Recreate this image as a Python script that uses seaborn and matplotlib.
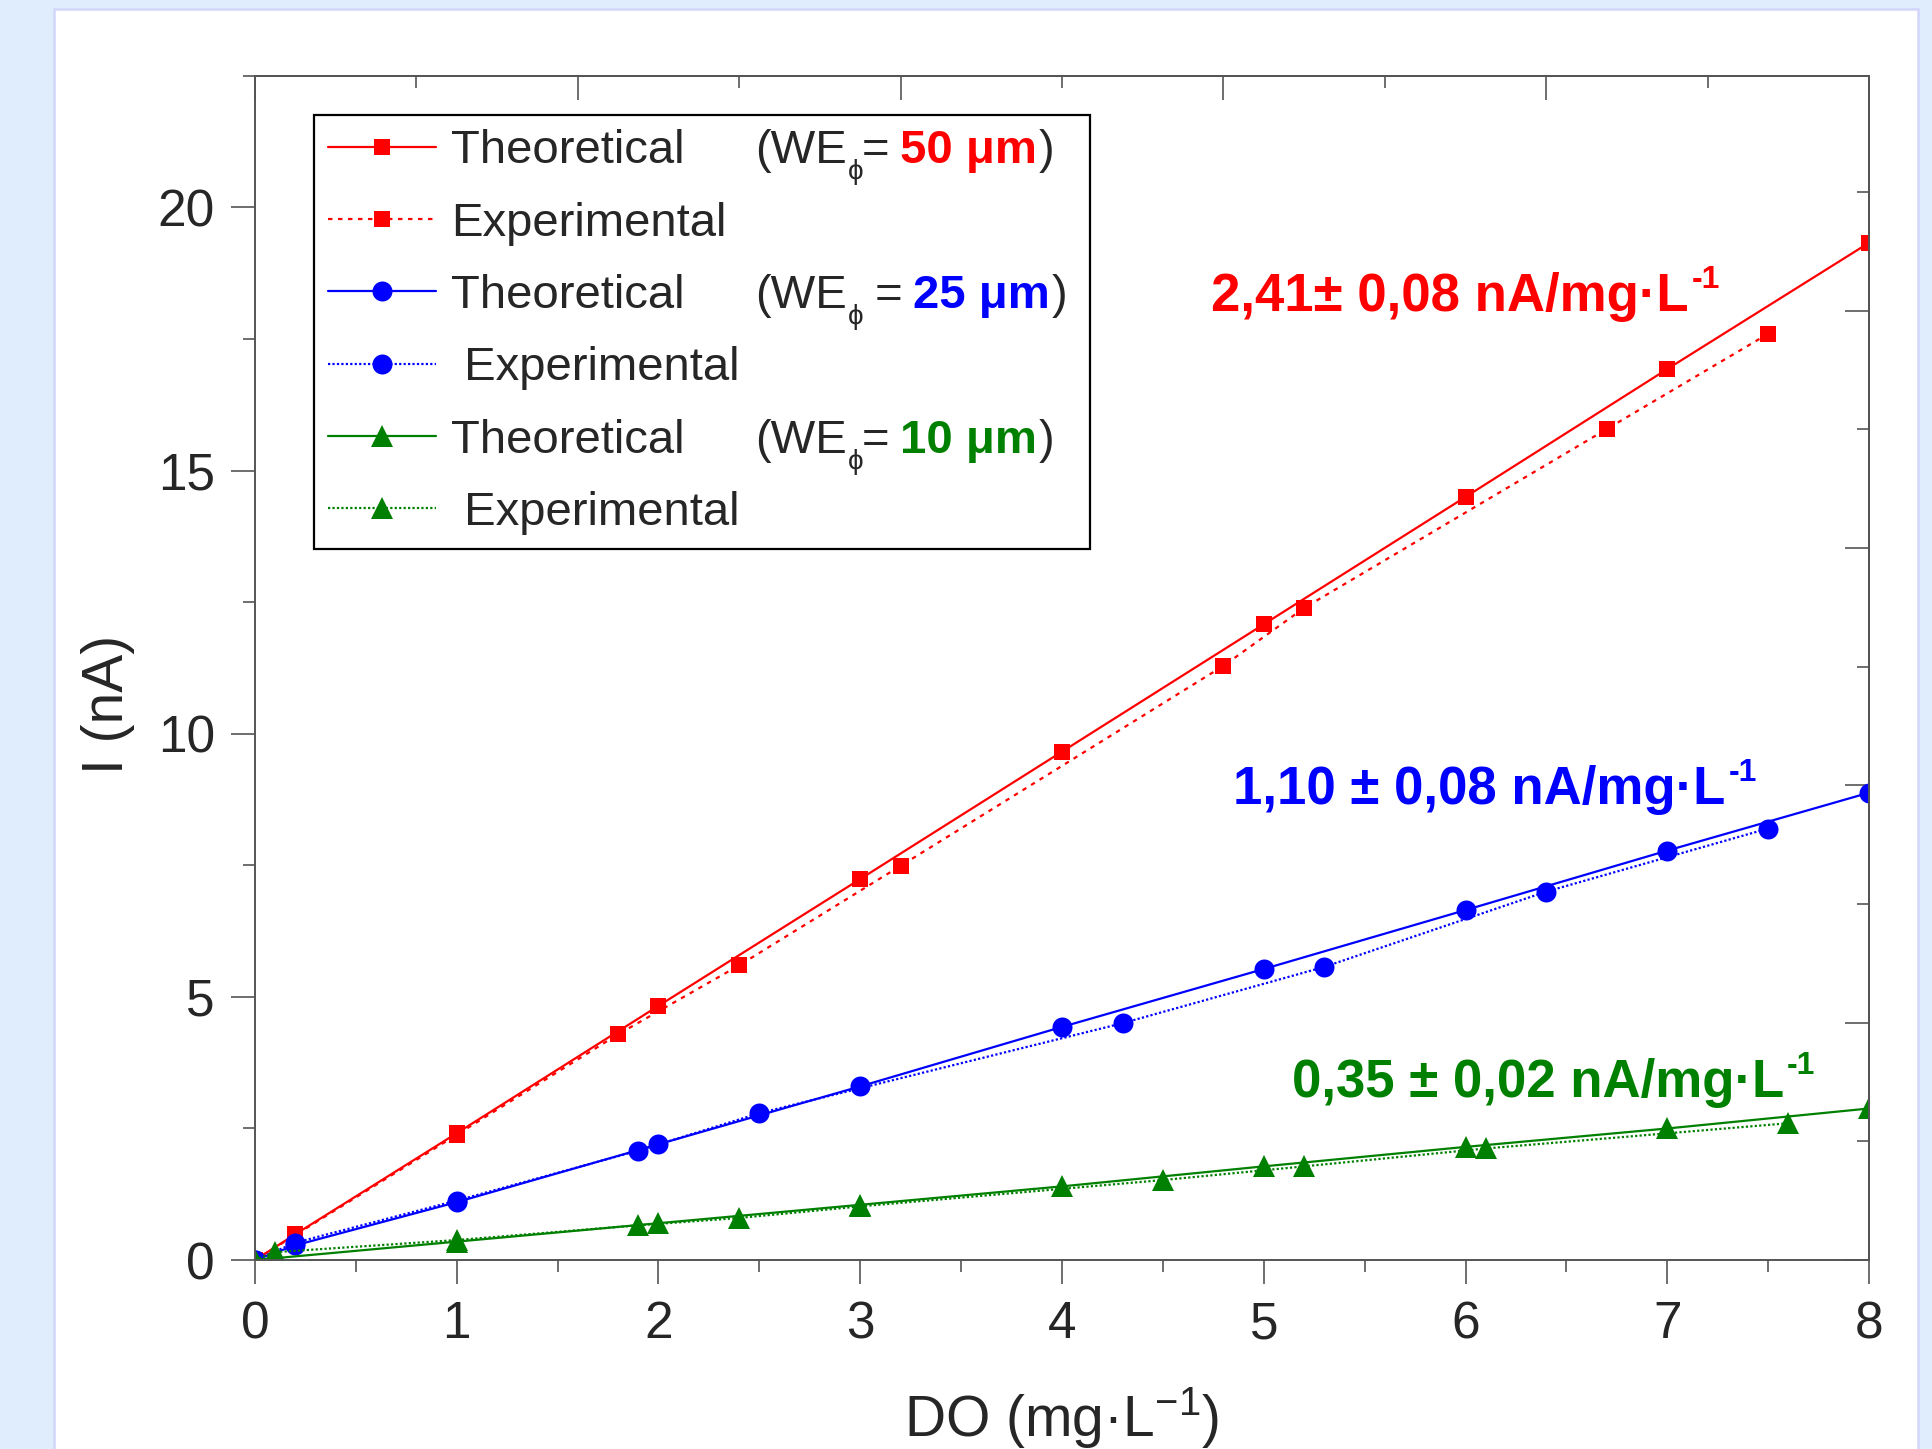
import numpy as np
import pandas as pd
import matplotlib
matplotlib.use("Agg")
import matplotlib.pyplot as plt
from matplotlib.patches import Rectangle
from matplotlib.ticker import MultipleLocator, NullFormatter
import seaborn as sns

# --- data ------------------------------------------------------------------
x_red_theo = [0, 0.2, 1, 2, 3, 4, 5, 6, 7, 8]
y_red_theo = [0, 0.49, 2.41, 4.83, 7.24, 9.66, 12.08, 14.5, 16.93, 19.33]
x_red_exp = [0, 1, 1.8, 2.4, 3.2, 4.8, 5.2, 6.7, 7.5]
y_red_exp = [0, 2.38, 4.29, 5.6, 7.49, 11.29, 12.39, 15.79, 17.6]

x_blue_theo = [0, 0.2, 1, 2, 3, 4, 5, 6, 7, 8]
y_blue_theo = [0, 0.28, 1.1, 2.2, 3.3, 4.43, 5.53, 6.65, 7.78, 8.88]
x_blue_exp = [0, 0.2, 1, 1.9, 2.5, 4.3, 5.3, 6.4, 7.5]
y_blue_exp = [0, 0.33, 1.13, 2.08, 2.79, 4.5, 5.57, 7.0, 8.2]

x_green_theo = [0, 1, 2, 3, 4, 5, 6, 7, 8]
y_green_theo = [0, 0.35, 0.7, 1.05, 1.4, 1.78, 2.15, 2.5, 2.88]
x_green_exp = [0, 0.1, 1, 1.9, 2.4, 3, 4.5, 5.2, 6.1, 7.6]
y_green_exp = [0, 0.15, 0.38, 0.66, 0.8, 1.02, 1.52, 1.78, 2.12, 2.6]

colors = ["#ff0000", "#0000ff", "#008000"]
markers = ["s", "o", "^"]
marker_sizes = [6, 7.2, 8]
diameters = ["50 μm", "25 μm", "10 μm"]
eq_signs = ["=", " =", "="]
slopes = ["2,41± 0,08 nA/mg·L", "1,10 ± 0,08 nA/mg·L", "0,35 ± 0,02 nA/mg·L"]
slope_pos = [(4.74, 18.04), (4.85, 8.67), (5.14, 3.10)]  # baseline-left, data units

series = [
    (x_red_theo, y_red_theo, x_red_exp, y_red_exp),
    (x_blue_theo, y_blue_theo, x_blue_exp, y_blue_exp),
    (x_green_theo, y_green_theo, x_green_exp, y_green_exp),
]
exp_dash = [(0, (2, 2.5)), (0, (1, 1)), (0, (1, 1))]

# --- style -----------------------------------------------------------------
sns.set_theme(style="ticks")
FONT = "Liberation Sans"
fam = [FONT, "DejaVu Sans"]
plt.rcParams["font.family"] = fam
plt.rcParams["mathtext.fontset"] = "custom"
plt.rcParams["mathtext.rm"] = FONT
plt.rcParams["mathtext.it"] = FONT + ":italic"
plt.rcParams["mathtext.bf"] = FONT + ":bold"

SPINE = "#555555"
LEG_FS = 17

fig = plt.figure(figsize=(9.665, 7.245), dpi=200)
fig.patch.set_facecolor("#dfedfd")
fig.add_artist(Rectangle((54 / 1933, -0.02), (1918 - 54) / 1933, 1.02 - 9 / 1449,
                         transform=fig.transFigure, facecolor="white",
                         edgecolor="#d3d6fa", lw=0.9, zorder=0))

ax = fig.add_axes([0.1319, 0.1304, 0.8350, 0.8172])
ax.set_facecolor("white")

handles = []
for (xt, yt, xe, ye), col, mk, ms, dash in zip(series, colors, markers, marker_sizes, exp_dash):
    sns.lineplot(x=xt, y=yt, ax=ax, color=col, marker=mk, markersize=ms,
                 markeredgewidth=0, markeredgecolor=col, linewidth=0.8)
    handles.append(ax.lines[-1])
    sns.lineplot(x=xe, y=ye, ax=ax, color=col, marker=mk, markersize=ms,
                 markeredgewidth=0, markeredgecolor=col, linewidth=0.8,
                 linestyle=dash)
    handles.append(ax.lines[-1])

ax.set_xlim(0, 8)
ax.set_ylim(0, 22.5)
ax.xaxis.set_major_locator(MultipleLocator(1))
ax.xaxis.set_minor_locator(MultipleLocator(0.5))
ax.yaxis.set_major_locator(MultipleLocator(5))
ax.yaxis.set_minor_locator(MultipleLocator(2.5))
ax.tick_params(which="both", direction="out", color=SPINE, width=0.6,
               labelsize=18.5, pad=5.8, top=False, right=False)
ax.tick_params(which="major", length=8.6)
ax.tick_params(which="minor", length=4.3)
for sp in ax.spines.values():
    sp.set_color(SPINE)
    sp.set_linewidth(0.7)
    sp.set_visible(True)

# secondary scales on top / right with inward ticks, no labels
top = ax.secondary_xaxis("top")
top.xaxis.set_major_locator(MultipleLocator(1.6))
top.xaxis.set_minor_locator(MultipleLocator(0.8))
top.xaxis.set_major_formatter(NullFormatter())
top.tick_params(which="both", direction="in", color=SPINE, width=0.6)
top.tick_params(which="major", length=8.6)
top.tick_params(which="minor", length=4.3)
top.spines["top"].set_color(SPINE)
top.spines["top"].set_linewidth(0.7)

right = ax.secondary_yaxis("right")
right.yaxis.set_major_locator(MultipleLocator(4.51))
right.yaxis.set_minor_locator(MultipleLocator(2.255))
right.yaxis.set_major_formatter(NullFormatter())
right.tick_params(which="both", direction="in", color=SPINE, width=0.6)
right.tick_params(which="major", length=8.6)
right.tick_params(which="minor", length=4.3)
right.spines["right"].set_color("#333333")
right.spines["right"].set_linewidth(0.7)

ax.set_xlabel("DO (mg·L$^{-1}$)", fontsize=20.5)
ax.set_ylabel("I (nA)", fontsize=20.5)
ax.xaxis.label.set_va("baseline")
ax.xaxis.set_label_coords(0.5, -0.1486)
ax.yaxis.set_label_coords(-0.0743, 0.469)

# slope annotations with a hyphen superscript
for (px, py), txt, col in zip(slope_pos, slopes, colors):
    main = ax.text(px, py, txt, color=col, fontsize=19, fontweight="bold",
                   va="baseline", ha="left")
    ax.annotate("-1", xy=(1, 1), xycoords=main, xytext=(1, 2.5),
                textcoords="offset points", va="top", ha="left",
                fontsize=11.5, fontweight="bold", color=col)

# legend
labels = ["Theoretical", "Experimental", "Theoretical", " Experimental",
          "Theoretical", " Experimental"]
leg = ax.legend(handles, labels, loc="upper left",
                bbox_to_anchor=(0.0366, 0.605, 0.4807, 0.362), mode="expand",
                borderaxespad=0, frameon=True, fancybox=False,
                edgecolor="black", framealpha=1,
                prop={"family": fam, "size": LEG_FS},
                handlelength=2.28, handletextpad=0.32, labelspacing=0.6,
                borderpad=0.3, numpoints=1)
leg.get_frame().set_linewidth(0.8)

leg_texts = leg.get_texts()
for i, (eq, dia, col) in enumerate(zip(eq_signs, diameters, colors)):
    ref = leg_texts[2 * i]
    t0 = ax.annotate("(WE", xy=(0, 0), xycoords=ref, xytext=(109.4, 0),
                     textcoords="offset points", va="bottom", ha="left",
                     fontsize=LEG_FS, zorder=7)
    ax.annotate("ϕ", xy=(1, 0), xycoords=t0, xytext=(0.3, -2.2),
                textcoords="offset points", va="baseline", ha="left",
                fontsize=10, zorder=7)
    t1 = ax.annotate(eq, xy=(1, 0), xycoords=t0, xytext=(5.4, 0),
                     textcoords="offset points", va="bottom", ha="left",
                     fontsize=LEG_FS, zorder=7)
    t2 = ax.annotate(dia, xy=(1, 0), xycoords=t1, xytext=(4, 0),
                     textcoords="offset points", va="bottom", ha="left",
                     fontsize=LEG_FS, fontweight="bold", color=col, zorder=7)
    ax.annotate(")", xy=(1, 0), xycoords=t2, xytext=(0.5, 0),
                textcoords="offset points", va="bottom", ha="left",
                fontsize=LEG_FS, zorder=7)

fig.canvas.draw()
fig.savefig("out.png", dpi=200, facecolor=fig.get_facecolor())
